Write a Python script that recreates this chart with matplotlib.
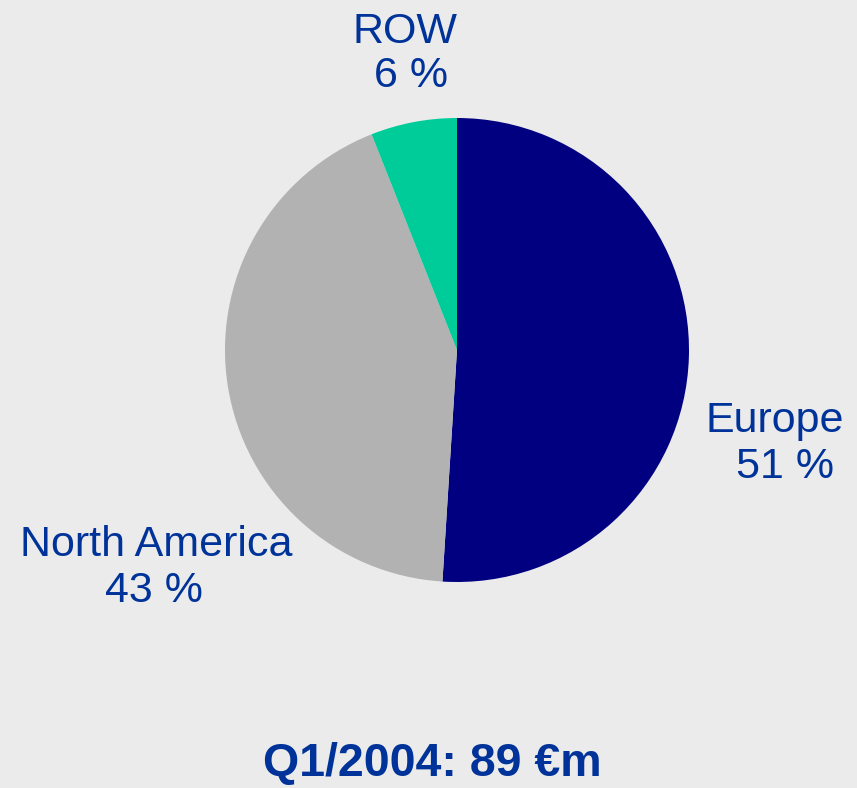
import matplotlib
matplotlib.use("Agg")
import matplotlib.pyplot as plt

regions = ["Europe", "North America", "ROW"]
shares = [51, 43, 6]
colors = ["#000080", "#B2B2B2", "#00CC99"]
title = "Q1/2004: 89 €m"

W, H = 857, 788
fig = plt.figure(figsize=(W / 100, H / 100), dpi=100)
fig.patch.set_facecolor("#EBEBEB")
ax = fig.add_axes([0, 0, 1, 1])
ax.set_facecolor("#EBEBEB")

cx, cy, r = 457, H - 350, 232
ax.pie(shares, colors=colors, startangle=90, counterclock=False,
       center=(cx, cy), radius=r, frame=True,
       wedgeprops=dict(linewidth=0))
ax.set_xlim(0, W)
ax.set_ylim(0, H)
ax.axis("off")

txtc = "#003399"
fs = 31
# (x center line1, baseline1, x center line2, baseline2) in pixels from top
label_pos = {"Europe": (775, 432, 785, 478),
             "North America": (156, 556, 154, 602),
             "ROW": (405, 43, 411, 87)}
for name, val in zip(regions, shares):
    x1, y1, x2, y2 = label_pos[name]
    ax.text(x1, H - y1, name, ha="center", va="baseline",
            fontsize=fs, color=txtc, family="Liberation Sans")
    ax.text(x2, H - y2, f"{val} %", ha="center", va="baseline",
            fontsize=fs, color=txtc, family="Liberation Sans")

ax.text(432, H - 776, title, ha="center", va="baseline", fontsize=33.5,
        fontweight="bold", color=txtc, family="Liberation Sans")

fig.savefig("out.png", dpi=100, facecolor=fig.get_facecolor())
